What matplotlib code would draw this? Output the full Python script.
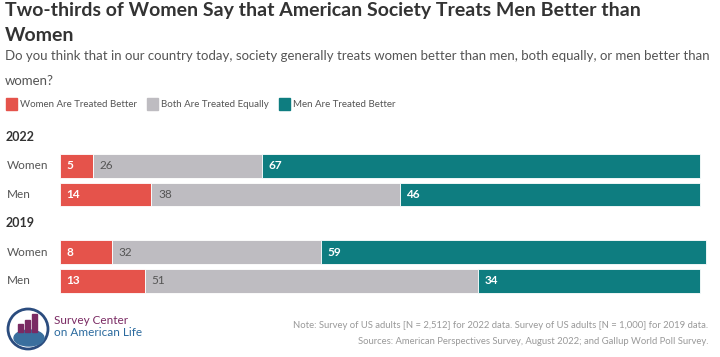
import matplotlib.pyplot as plt
import matplotlib.transforms as mtransforms
from matplotlib.patches import Rectangle, Ellipse

plt.rcParams['font.family'] = ['Lato', 'DejaVu Sans']

# data
years = ['2022', '2019']
groups = ['Women', 'Men']
women_better = [5, 14, 8, 13]
equal = [26, 38, 32, 51]
men_better = [67, 46, 59, 34]
series_names = ['Women Are Treated Better', 'Both Are Treated Equally', 'Men Are Treated Better']
colors = ['#E5534B', '#BEBCC1', '#0E7D80']
text_colors = ['white', '#555555', 'white']
text_weights = ['bold', 'normal', 'bold']

W, H = 720, 357
fig = plt.figure(figsize=(W / 100, H / 100), dpi=100)
renderer = fig.canvas.get_renderer()

def fy(px):
    return 1 - px / H

# title and subtitle
fig.text(5 / W, fy(2), 'Two-thirds of Women Say that American Society Treats Men Better than\nWomen',
         fontsize=14, fontweight='bold', color='#333333', va='top', linespacing=1.55)
fig.text(5 / W, fy(50), 'Do you think that in our country today, society generally treats women better than men, both equally, or men better than\nwomen?',
         fontsize=9.5, color='#555555', va='top', linespacing=2.3)

# legend (squares placed after each label's measured width)
x = 6
for i, name in enumerate(series_names):
    fig.patches.append(Rectangle((x / W, fy(110)), 11 / W, 12 / H, color=colors[i],
                                 transform=fig.transFigure, figure=fig))
    t = fig.text((x + 14) / W, fy(104), name, fontsize=7, color='#555555', va='center')
    x = x + 14 + t.get_window_extent(renderer).width + 10

# bars
ax = fig.add_axes([60 / W, fy(300), 653 / W, 180 / H])
rows = [0, 1, 3, 4]
ax.set_xlim(0, 100)
ax.set_ylim(4.67, -1.6)
ax.axis('off')

series = [women_better, equal, men_better]
left = [0] * 4
for s, vals in enumerate(series):
    ax.barh(rows, vals, left=left, height=0.82, color=colors[s], edgecolor='white', linewidth=0.6)
    for r, v, l in zip(rows, vals, left):
        ax.text(l + 1.0, r, str(v), color=text_colors[s], fontweight=text_weights[s],
                fontsize=8.5, va='center', ha='left')
    left = [a + b for a, b in zip(left, vals)]

trans = mtransforms.blended_transform_factory(fig.transFigure, ax.transData)
for i, yr in enumerate(years):
    ax.text(6 / W, -1 + 3 * i, yr, transform=trans, fontsize=9, fontweight='bold',
            color='#333333', va='center')
    for j, g in enumerate(groups):
        ax.text(7 / W, 3 * i + j, g, transform=trans, fontsize=8.5, color='#555555', va='center')

# logo
fig.patches.append(Ellipse((28 / W, fy(329)), 40 / W, 40 / H, transform=fig.transFigure, figure=fig,
                           fill=False, edgecolor='#2B4C7E', linewidth=2))
fig.patches.append(Ellipse((29 / W, fy(338)), 30 / W, 16 / H, transform=fig.transFigure, figure=fig,
                           color='#3A6F9E'))
for k, hgt in enumerate([8, 12, 18]):
    fig.patches.append(Rectangle(((18 + k * 7) / W, fy(332)), 5 / W, hgt / H, color='#7A2A63',
                                 transform=fig.transFigure, figure=fig))
fig.text(54 / W, fy(321), 'Survey Center', fontsize=8.5, color='#7A2A63', va='center')
fig.text(54 / W, fy(333), 'on American Life', fontsize=8.5, color='#2B6A9E', va='center')

# notes
fig.text(708 / W, fy(326), 'Note: Survey of US adults [N = 2,512] for 2022 data. Survey of US adults [N = 1,000] for 2019 data.',
         fontsize=6.8, color='#999999', ha='right', va='center')
fig.text(708 / W, fy(341), 'Sources: American Perspectives Survey, August 2022; and Gallup World Poll Survey.',
         fontsize=6.8, color='#999999', ha='right', va='center')

fig.savefig('out.png', dpi=100)
